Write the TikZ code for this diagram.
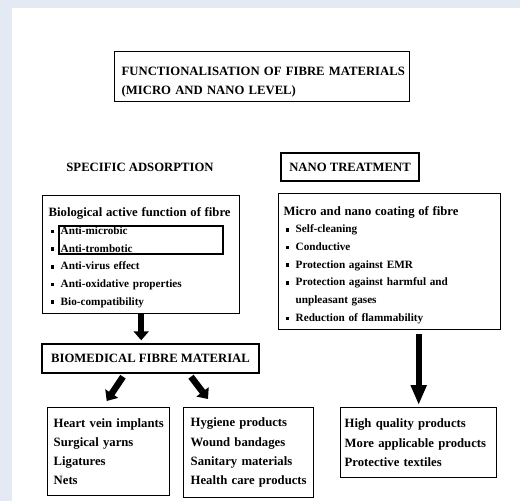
\documentclass[tikz,border=0pt]{standalone}
\usepackage{fontspec}
\setmainfont{Liberation Serif}
\usetikzlibrary{arrows.meta}

\definecolor{bgblue}{RGB}{227,234,243}
\newcommand\bul{\hspace*{2.5pt}\makebox[9.5pt][l]{\rule[1.3pt]{3pt}{3.5pt}}}
\hyphenpenalty=10000
\exhyphenpenalty=10000

\tikzset{
  box/.style={draw, line width=1.4pt, anchor=north west, align=left, inner ysep=0pt},
  cbox/.style={draw, line width=1.4pt, inner sep=0pt, font=\bfseries\fontsize{12.7}{16}\selectfont},
  fatarrow/.style={line width=6.5pt, -{Triangle[width=15pt,length=9pt]}}
}

\begin{document}
\begin{tikzpicture}[x=1pt,y=-1pt]
        % Background
        \useasboundingbox (0,0) rectangle (520,501);
        \fill[bgblue] (0,0) rectangle (520,501);
        \fill[white] (12,8) rectangle (520,501);

        % Title
        \node[box, inner xsep=7pt, text width=281pt, minimum height=50pt,
              font=\bfseries\fontsize{12.7}{19}\selectfont] (title) at (114,51)
              {\rule{0pt}{20pt}\mbox{FUNCTIONALISATION OF FIBRE MATERIALS}\\\mbox{(MICRO AND NANO LEVEL)}};

        % Two branches
        \node[font=\bfseries\fontsize{12.7}{16}\selectfont] (spec) at (140,167) {SPECIFIC ADSORPTION};
        \node[cbox, minimum width=138pt, minimum height=28pt] (nano) at (350,167) {NANO TREATMENT};

        \node[box, inner xsep=6pt, text width=185pt, minimum height=118pt,
              font=\bfseries\fontsize{11.2}{17.7}\selectfont] (bio) at (42,195)
              {{\fontsize{12.7}{17.7}\selectfont\rule{0pt}{15pt}\mbox{Biological active function of fibre}}\\
               \bul Anti-microbic\\
               \bul Anti-trombotic\\
               \bul Anti-virus effect\\
               \bul Anti-oxidative properties\\
               \bul Bio-compatibility};
        \draw[line width=1.4pt] (59,226) rectangle (223,254);

        \node[box, inner xsep=5pt, text width=212pt, minimum height=136pt,
              font=\bfseries\fontsize{11.2}{17.7}\selectfont] (coat) at (278,193)
              {{\fontsize{12.7}{17.7}\selectfont\rule{0pt}{15.5pt}\mbox{Micro and nano coating of fibre}}\\
               \bul Self-cleaning\\
               \bul Conductive\\
               \bul Protection against EMR\\
               \bul \mbox{Protection against harmful and}\\
               \hspace*{12pt}unpleasant gases\\
               \bul Reduction of flammability};

        % Biomedical material
        \node[cbox, minimum width=217pt, minimum height=29pt] (biomed) at (150.5,358.5) {BIOMEDICAL FIBRE MATERIAL};

        % Products
        \node[box, inner xsep=6pt, text width=110pt, minimum height=88pt,
              font=\bfseries\fontsize{12.7}{19.3}\selectfont] (heart) at (47,407)
              {\mbox{Heart vein implants}\\\mbox{Surgical yarns}\\Ligatures\\Nets};
        \node[box, inner xsep=7pt, text width=116pt, minimum height=90pt,
              font=\bfseries\fontsize{12.7}{19.3}\selectfont] (hygiene) at (183,407)
              {\mbox{Hygiene products}\\\mbox{Wound bandages}\\\mbox{Sanitary materials}\\\mbox{Health care products}};
        \node[box, inner xsep=4pt, text width=148pt, minimum height=70pt,
              font=\bfseries\fontsize{12.7}{19.3}\selectfont] (quality) at (340,407)
              {\mbox{High quality products}\\\mbox{More applicable products}\\\mbox{Protective textiles}};

        % Arrows
        \draw[fatarrow, shorten >=3pt] (bio.south) -- (bio.south |- biomed.north);
        \draw[fatarrow] ([xshift=-27.5pt,yshift=-3pt]biomed.south) -- ([xshift=-2pt,yshift=6pt]heart.north);
        \draw[fatarrow] ([xshift=40.5pt,yshift=-3pt]biomed.south) -- ([xshift=25pt,yshift=8pt]hygiene.north west);
        \draw[line width=6pt, -{Triangle[width=15pt,length=20pt]}, shorten <=4pt, shorten >=2pt]
              (coat.south -| quality.north) -- (quality.north);
      \end{tikzpicture}
\end{document}
